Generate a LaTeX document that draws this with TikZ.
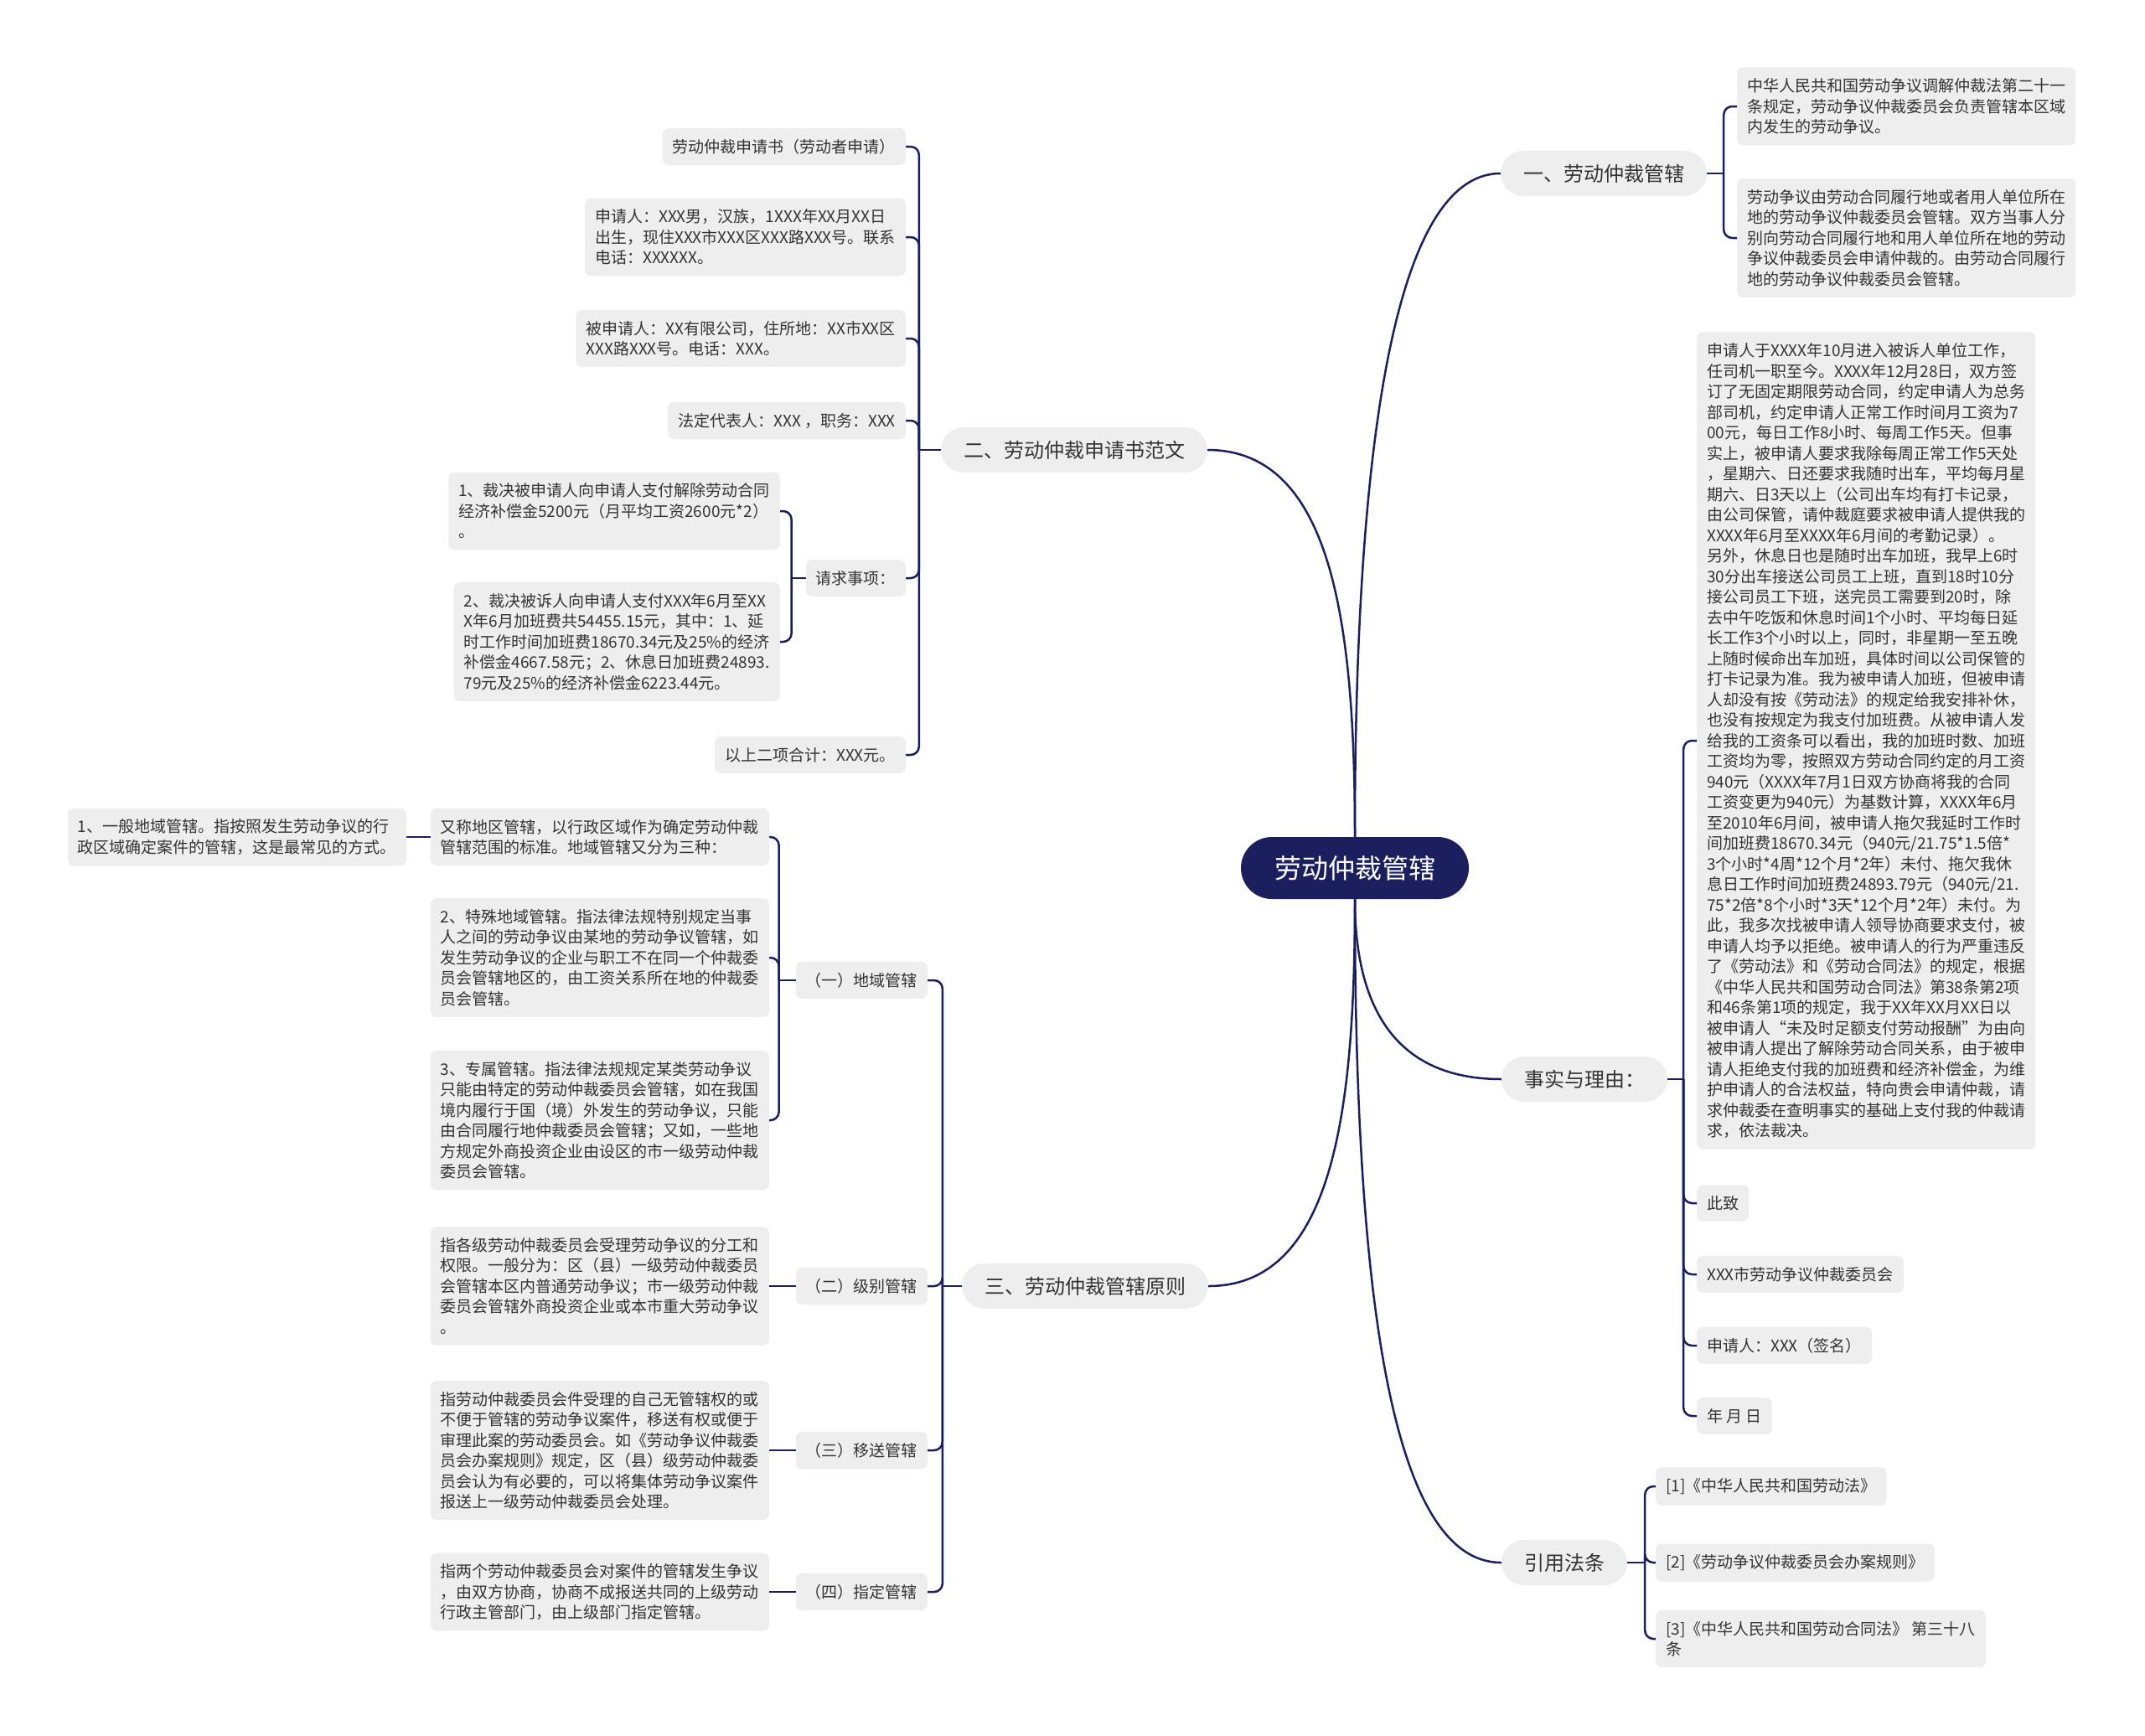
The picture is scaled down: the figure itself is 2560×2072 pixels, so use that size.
\documentclass[tikz,border=0pt]{standalone}
\usepackage{fontspec}
\usepackage{tikz}
\newfontfamily\zhfont{Noto Sans CJK SC}
\definecolor{rootblue}{HTML}{1B1F5E}
\definecolor{linkblue}{HTML}{1B1F5E}
\definecolor{leafgray}{HTML}{EEEEEE}
\definecolor{textgray}{HTML}{333333}

\begin{document}
\begin{tikzpicture}[x=1pt, y=-1pt,
    link/.style={draw=linkblue, line width=2.5pt, rounded corners=10pt},
    leaf/.style={fill=leafgray, rounded corners=7pt, align=left, inner xsep=12pt, inner ysep=13pt, text=textgray, font=\zhfont\fontsize{19}{24.5}\selectfont},
    branch/.style={fill=leafgray, rounded corners=27pt, minimum height=54pt, inner xsep=27pt, text=textgray, font=\zhfont\fontsize{24}{30}\selectfont},
    rootbox/.style={fill=rootblue, rounded corners=37pt, minimum height=74pt, inner xsep=40pt, text=white, font=\zhfont\fontsize{32}{38}\selectfont}]
    \fill[white] (0,0) rectangle (2560,2072);
    \useasboundingbox (0,0) rectangle (2560,2072);

    \node[rootbox] (root) at (1617,1036) {劳动仲裁管辖};

    \node[branch] (b1) at (1914,207) {一、劳动仲裁管辖};
    \node[branch] (b2) at (1282,537) {二、劳动仲裁申请书范文};
    \node[branch] (b3) at (1295,1535) {三、劳动仲裁管辖原则};
    \node[branch] (b4) at (1891,1288) {事实与理由：};
    \node[branch] (b5) at (1867,1865) {引用法条};

    \draw[link] (root.north) .. controls +(0,-450) and +(-130,0) .. (b1.west);
    \draw[link] (root.north) .. controls +(0,-250) and +(150,0) .. (b2.east);
    \draw[link] (root.south) .. controls +(0,250) and +(150,0) .. (b3.east);
    \draw[link] (root.south) .. controls +(0,150) and +(-110,0) .. (b4.west);
    \draw[link] (root.south) .. controls +(0,480) and +(-130,0) .. (b5.west);

    \node[leaf, anchor=west] (r11) at (2073,127) {中华人民共和国劳动争议调解仲裁法第二十一\\条规定，劳动争议仲裁委员会负责管辖本区域\\内发生的劳动争议。};
    \node[leaf, anchor=west] (r12) at (2073,284) {劳动争议由劳动合同履行地或者用人单位所在\\地的劳动争议仲裁委员会管辖。双方当事人分\\别向劳动合同履行地和用人单位所在地的劳动\\争议仲裁委员会申请仲裁的。由劳动合同履行\\地的劳动争议仲裁委员会管辖。};
    \draw[link] (b1.east) -- ++(20,0) coordinate (s1);
    \draw[link] (s1) |- (r11.west);
    \draw[link] (s1) |- (r12.west);

    \node[leaf, anchor=west] (r21) at (2025,884) {申请人于XXXX年10月进入被诉人单位工作，\\任司机一职至今。XXXX年12月28日，双方签\\订了无固定期限劳动合同，约定申请人为总务\\部司机，约定申请人正常工作时间月工资为7\\00元，每日工作8小时、每周工作5天。但事\\实上，被申请人要求我除每周正常工作5天处\\，星期六、日还要求我随时出车，平均每月星\\期六、日3天以上（公司出车均有打卡记录，\\由公司保管，请仲裁庭要求被申请人提供我的\\XXXX年6月至XXXX年6月间的考勤记录）。\\另外，休息日也是随时出车加班，我早上6时\\30分出车接送公司员工上班，直到18时10分\\接公司员工下班，送完员工需要到20时，除\\去中午吃饭和休息时间1个小时、平均每日延\\长工作3个小时以上，同时，非星期一至五晚\\上随时候命出车加班，具体时间以公司保管的\\打卡记录为准。我为被申请人加班，但被申请\\人却没有按《劳动法》的规定给我安排补休，\\也没有按规定为我支付加班费。从被申请人发\\给我的工资条可以看出，我的加班时数、加班\\工资均为零，按照双方劳动合同约定的月工资\\940元（XXXX年7月1日双方协商将我的合同\\工资变更为940元）为基数计算，XXXX年6月\\至2010年6月间，被申请人拖欠我延时工作时\\间加班费18670.34元（940元/21.75*1.5倍*\\3个小时*4周*12个月*2年）未付、拖欠我休\\息日工作时间加班费24893.79元（940元/21.\\75*2倍*8个小时*3天*12个月*2年）未付。为\\此，我多次找被申请人领导协商要求支付，被\\申请人均予以拒绝。被申请人的行为严重违反\\了《劳动法》和《劳动合同法》的规定，根据\\《中华人民共和国劳动合同法》第38条第2项\\和46条第1项的规定，我于XX年XX月XX日以\\被申请人“未及时足额支付劳动报酬”为由向\\被申请人提出了解除劳动合同关系，由于被申\\请人拒绝支付我的加班费和经济补偿金，为维\\护申请人的合法权益，特向贵会申请仲裁，请\\求仲裁委在查明事实的基础上支付我的仲裁请\\求，依法裁决。};
    \node[leaf, anchor=west] (r22) at (2025,1436) {此致};
    \node[leaf, anchor=west] (r23) at (2025,1521) {XXX市劳动争议仲裁委员会};
    \node[leaf, anchor=west] (r24) at (2025,1606) {申请人：XXX（签名）};
    \node[leaf, anchor=west] (r25) at (2025,1690) {年 月 日};
    \draw[link] (b4.east) -- ++(19,0) coordinate (s4);
    \draw[link] (s4) |- (r21.west);
    \draw[link] (s4) |- (r22.west);
    \draw[link] (s4) |- (r23.west);
    \draw[link] (s4) |- (r24.west);
    \draw[link] (s4) |- (r25.west);

    \node[leaf, anchor=west] (r31) at (1976,1774) {[1]《中华人民共和国劳动法》};
    \node[leaf, anchor=west] (r32) at (1976,1865) {[2]《劳动争议仲裁委员会办案规则》};
    \node[leaf, anchor=west] (r33) at (1976,1956) {[3]《中华人民共和国劳动合同法》 第三十八\\条};
    \draw[link] (b5.east) -- ++(21,0) coordinate (s5);
    \draw[link] (s5) |- (r31.west);
    \draw[link] (s5) |- (r32.west);
    \draw[link] (s5) |- (r33.west);

    \node[leaf, anchor=east] (l21) at (1081,175) {劳动仲裁申请书（劳动者申请）};
    \node[leaf, anchor=east] (l22) at (1081,283) {申请人：XXX男，汉族，1XXX年XX月XX日\\出生，现住XXX市XXX区XXX路XXX号。联系\\电话：XXXXXX。};
    \node[leaf, anchor=east] (l23) at (1081,404) {被申请人：XX有限公司，住所地：XX市XX区\\XXX路XXX号。电话：XXX。};
    \node[leaf, anchor=east] (l24) at (1081,502) {法定代表人：XXX ，职务：XXX};
    \node[leaf, anchor=east] (l25) at (1081,690) {请求事项：};
    \node[leaf, anchor=east] (l26) at (1081,901) {以上二项合计：XXX元。};
    \draw[link] (b2.west) -- ++(-26,0) coordinate (s2);
    \draw[link] (s2) |- (l21.east);
    \draw[link] (s2) |- (l22.east);
    \draw[link] (s2) |- (l23.east);
    \draw[link] (s2) |- (l24.east);
    \draw[link] (s2) |- (l25.east);
    \draw[link] (s2) |- (l26.east);

    \node[leaf, anchor=east] (l251) at (931,610) {1、裁决被申请人向申请人支付解除劳动合同\\经济补偿金5200元（月平均工资2600元*2）\\。};
    \node[leaf, anchor=east] (l252) at (931,766) {2、裁决被诉人向申请人支付XXX年6月至XX\\X年6月加班费共54455.15元，其中：1、延\\时工作时间加班费18670.34元及25\%的经济\\补偿金4667.58元；2、休息日加班费24893.\\79元及25\%的经济补偿金6223.44元。};
    \draw[link] (l25.west) -- ++(-17,0) coordinate (s25);
    \draw[link] (s25) |- (l251.east);
    \draw[link] (s25) |- (l252.east);

    \node[leaf, anchor=east] (c1) at (1107,1170) {（一）地域管辖};
    \node[leaf, anchor=east] (c2) at (1107,1535) {（二）级别管辖};
    \node[leaf, anchor=east] (c3) at (1107,1731) {（三）移送管辖};
    \node[leaf, anchor=east] (c4) at (1107,1900) {（四）指定管辖};
    \draw[link] (b3.west) -- ++(-23,0) coordinate (s3);
    \draw[link] (s3) |- (c1.east);
    \draw[link] (s3) |- (c2.east);
    \draw[link] (s3) |- (c3.east);
    \draw[link] (s3) |- (c4.east);

    \node[leaf, anchor=east] (d1) at (918,999) {又称地区管辖，以行政区域作为确定劳动仲裁\\管辖范围的标准。地域管辖又分为三种：};
    \node[leaf, anchor=east] (d2) at (918,1143) {2、特殊地域管辖。指法律法规特别规定当事\\人之间的劳动争议由某地的劳动争议管辖，如\\发生劳动争议的企业与职工不在同一个仲裁委\\员会管辖地区的，由工资关系所在地的仲裁委\\员会管辖。};
    \node[leaf, anchor=east] (d3) at (918,1337) {3、专属管辖。指法律法规规定某类劳动争议\\只能由特定的劳动仲裁委员会管辖，如在我国\\境内履行于国（境）外发生的劳动争议，只能\\由合同履行地仲裁委员会管辖；又如，一些地\\方规定外商投资企业由设区的市一级劳动仲裁\\委员会管辖。};
    \draw[link] (c1.west) -- ++(-20,0) coordinate (sc1);
    \draw[link] (sc1) |- (d1.east);
    \draw[link] (sc1) |- (d2.east);
    \draw[link] (sc1) |- (d3.east);

    \node[leaf, anchor=east] (e1) at (485,999) {1、一般地域管辖。指按照发生劳动争议的行\\政区域确定案件的管辖，这是最常见的方式。};
    \draw[link] (d1.west) -- (e1.east);

    \node[leaf, anchor=east] (f2) at (918,1535) {指各级劳动仲裁委员会受理劳动争议的分工和\\权限。一般分为：区（县）一级劳动仲裁委员\\会管辖本区内普通劳动争议；市一级劳动仲裁\\委员会管辖外商投资企业或本市重大劳动争议\\。};
    \node[leaf, anchor=east] (f3) at (918,1731) {指劳动仲裁委员会件受理的自己无管辖权的或\\不便于管辖的劳动争议案件，移送有权或便于\\审理此案的劳动委员会。如《劳动争议仲裁委\\员会办案规则》规定，区（县）级劳动仲裁委\\员会认为有必要的，可以将集体劳动争议案件\\报送上一级劳动仲裁委员会处理。};
    \node[leaf, anchor=east] (f4) at (918,1900) {指两个劳动仲裁委员会对案件的管辖发生争议\\，由双方协商，协商不成报送共同的上级劳动\\行政主管部门，由上级部门指定管辖。};
    \draw[link] (c2.west) -- (f2.east);
    \draw[link] (c3.west) -- (f3.east);
    \draw[link] (c4.west) -- (f4.east);
\end{tikzpicture}
\end{document}
